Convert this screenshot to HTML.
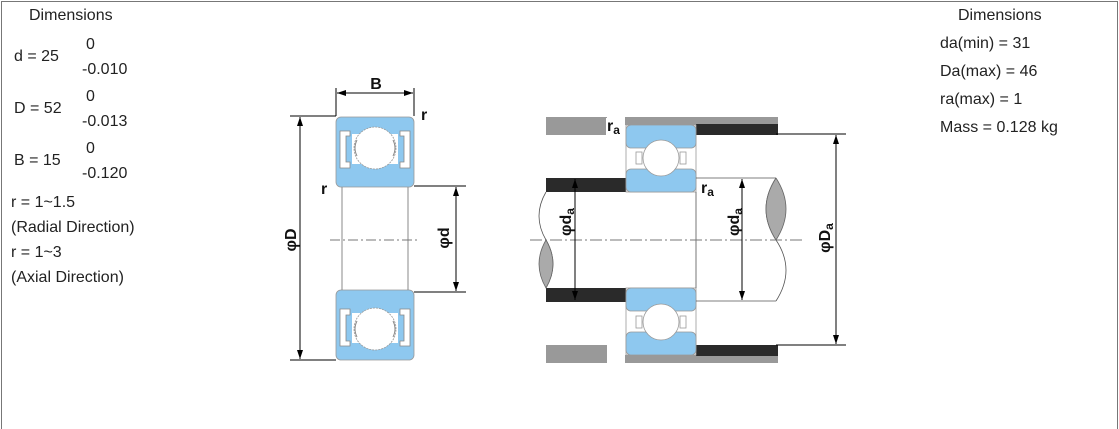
<!DOCTYPE html>
<html><head><meta charset="utf-8"><style>
html,body{margin:0;padding:0;background:#fff}
.w{position:relative;width:1119px;height:429px;overflow:hidden;font-family:"Liberation Sans",Arial,sans-serif;font-size:16px;color:#222}
.f{position:absolute;left:1px;top:1px;width:1115px;height:440px;border:1px solid #777}
.t{position:absolute;white-space:nowrap}
svg{position:absolute;left:0;top:0}
</style></head><body><div class="w">
<div class="f"></div>
<div class="t" style="left:29px;top:7px">Dimensions</div>
<div class="t" style="left:14px;top:48px">d = 25</div>
<div class="t" style="left:86px;top:36px">0</div>
<div class="t" style="left:82px;top:61px">-0.010</div>
<div class="t" style="left:14px;top:100px">D = 52</div>
<div class="t" style="left:86px;top:88px">0</div>
<div class="t" style="left:82px;top:113px">-0.013</div>
<div class="t" style="left:14px;top:152px">B = 15</div>
<div class="t" style="left:86px;top:140px">0</div>
<div class="t" style="left:82px;top:165px">-0.120</div>
<div class="t" style="left:11px;top:194px">r = 1~1.5</div>
<div class="t" style="left:11px;top:219px">(Radial Direction)</div>
<div class="t" style="left:11px;top:244px">r = 1~3</div>
<div class="t" style="left:11px;top:269px">(Axial Direction)</div>
<div class="t" style="left:958px;top:7px">Dimensions</div>
<div class="t" style="left:940px;top:35px">da(min) = 31</div>
<div class="t" style="left:940px;top:63px">Da(max) = 46</div>
<div class="t" style="left:940px;top:91px">ra(max) = 1</div>
<div class="t" style="left:940px;top:119px">Mass = 0.128 kg</div>
<svg width="1119" height="429" viewBox="0 0 1119 429">
<defs>
<marker id="a" markerWidth="10" markerHeight="8" refX="9" refY="3" orient="auto-start-reverse" markerUnits="userSpaceOnUse"><path d="M0,0 L9,3 L0,6 Z" fill="#000"/></marker>
<g id="lb">
<rect x="336" y="117" width="78" height="70" rx="5" fill="#8ec8ef" stroke="#999" stroke-width="0.8"/>
<path d="M340,131 h10 v5 h-4 v26 h4 v6 h-10 z" fill="#fff" stroke="#888" stroke-width="0.8"/>
<path d="M410,131 h-10 v5 h4 v26 h-4 v6 h10 z" fill="#fff" stroke="#888" stroke-width="0.8"/>
<rect x="352" y="134" width="46" height="30" fill="#fff"/>
<circle cx="375" cy="148" r="21" fill="#fff" stroke="#999" stroke-width="0.8" stroke-dasharray="2 1"/>
<path d="M357,140 q-4,8 0,16 M393,140 q4,8 0,16" stroke="#888" fill="none"/>
</g>
<g id="rb">
<rect x="626" y="125" width="70" height="67" fill="#fff" stroke="#999" stroke-width="0.8"/>
<rect x="626" y="125" width="70" height="23" rx="5" fill="#8ec8ef" stroke="#999" stroke-width="0.8"/>
<rect x="626" y="169" width="70" height="23" rx="5" fill="#8ec8ef" stroke="#999" stroke-width="0.8"/>
<rect x="636" y="152" width="6" height="12" fill="#fff" stroke="#999" stroke-width="0.8"/>
<rect x="680" y="152" width="6" height="12" fill="#fff" stroke="#999" stroke-width="0.8"/>
<circle cx="661" cy="158" r="18" fill="#fff" stroke="#999" stroke-width="0.8"/>
</g>
</defs>
<use href="#lb"/>
<use href="#lb" transform="translate(0,477) scale(1,-1)"/>
<line x1="342" y1="187" x2="342" y2="290" stroke="#888"/>
<line x1="408" y1="187" x2="408" y2="290" stroke="#888"/>
<line x1="330" y1="240" x2="420" y2="240" stroke="#777" stroke-dasharray="10 3 2 3"/>
<g stroke="#000" stroke-width="1" fill="none">
<line x1="336" y1="88" x2="336" y2="116"/><line x1="414" y1="88" x2="414" y2="116"/>
<line x1="337" y1="93" x2="413" y2="93" marker-start="url(#a)" marker-end="url(#a)"/>
<line x1="290" y1="116" x2="336" y2="116"/><line x1="290" y1="360" x2="336" y2="360"/>
<line x1="300" y1="117" x2="300" y2="359" marker-start="url(#a)" marker-end="url(#a)"/>
<line x1="414" y1="186" x2="466" y2="186"/><line x1="414" y1="292" x2="466" y2="292"/>
<line x1="456" y1="187" x2="456" y2="291" marker-start="url(#a)" marker-end="url(#a)"/>
</g>
<g font-family="Liberation Sans,Arial,sans-serif" font-weight="bold" fill="#111">
<text x="376" y="89" font-size="16" text-anchor="middle">B</text>
<text x="421" y="120" font-size="16">r</text>
<text x="321" y="194" font-size="16">r</text>
<text transform="translate(296,240) rotate(-90)" font-size="16" text-anchor="middle">φD</text>
<text transform="translate(449,238) rotate(-90)" font-size="16" text-anchor="middle">φd</text>
</g>
<rect x="546" y="117" width="61" height="18" fill="#999"/>
<rect x="625" y="117" width="153" height="8" fill="#999"/>
<rect x="696" y="124" width="82" height="11" fill="#2a2a2a"/>
<rect x="546" y="345" width="61" height="18" fill="#999"/>
<rect x="625" y="355" width="153" height="8" fill="#999"/>
<rect x="696" y="345" width="82" height="11" fill="#2a2a2a"/>
<rect x="546" y="178" width="80" height="14" fill="#2a2a2a"/>
<rect x="546" y="288" width="80" height="14" fill="#2a2a2a"/>
<use href="#rb"/>
<use href="#rb" transform="translate(0,480) scale(1,-1)"/>
<g stroke="#555" stroke-width="0.8" fill="none">
<line x1="696" y1="178" x2="776" y2="178"/><line x1="696" y1="301" x2="776" y2="301"/>
<line x1="696" y1="192" x2="696" y2="288"/>
<path d="M546,192 q-14,24 0,48 q14,24 0,48"/>
<path d="M776,178 q-20,31 0,62 q20,30 0,61"/>
</g>
<path d="M546,240 q-14,24 0,48 q14,-24 0,-48" fill="#aaa" stroke="#666" stroke-width="0.8"/>
<path d="M776,178 q-20,31 0,62 q20,-31 0,-62" fill="#aaa" stroke="#666" stroke-width="0.8"/>
<line x1="530" y1="240" x2="805" y2="240" stroke="#777" stroke-dasharray="12 3 2 3"/>
<g stroke="#000" stroke-width="1" fill="none">
<line x1="575" y1="179" x2="575" y2="300" marker-start="url(#a)" marker-end="url(#a)"/>
<line x1="742" y1="179" x2="742" y2="300" marker-start="url(#a)" marker-end="url(#a)"/>
<line x1="776" y1="134" x2="846" y2="134"/><line x1="776" y1="345" x2="846" y2="345"/>
<line x1="836" y1="135" x2="836" y2="344" marker-start="url(#a)" marker-end="url(#a)"/>
</g>
<rect x="606" y="118" width="19" height="17" fill="#fff"/>
<g font-family="Liberation Sans,Arial,sans-serif" font-weight="bold" fill="#111">
<text x="607" y="131" font-size="16">r<tspan font-size="12" dy="3">a</tspan></text>
<text x="701" y="193" font-size="16">r<tspan font-size="12" dy="3">a</tspan></text>
<text transform="translate(571,222) rotate(-90)" font-size="16" text-anchor="middle">φd<tspan font-size="12" dy="3">a</tspan></text>
<text transform="translate(739,222) rotate(-90)" font-size="16" text-anchor="middle">φd<tspan font-size="12" dy="3">a</tspan></text>
<text transform="translate(830,238) rotate(-90)" font-size="16" text-anchor="middle">φD<tspan font-size="12" dy="3">a</tspan></text>
</g>
</svg>
</div></body></html>
